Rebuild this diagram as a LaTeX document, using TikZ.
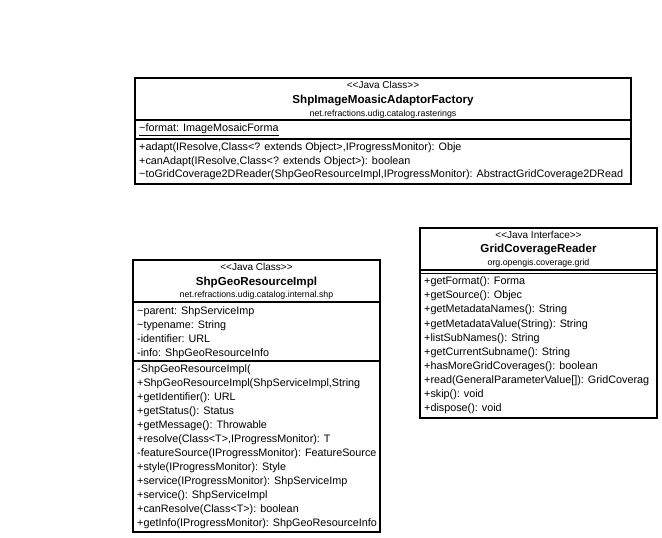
\documentclass[tikz,border=0pt]{standalone}
\usepackage{fontspec}
\setmainfont{Liberation Sans}
\tikzset{umlbox/.style={draw, line width=1.1pt}}
\tikzset{stereo/.style={inner sep=0pt, font=\fontsize{10}{12}\selectfont, text height=7.5pt, text depth=2pt}}
\tikzset{cname/.style={inner sep=0pt, font=\fontsize{11.6}{13}\selectfont\bfseries, text height=8.5pt, text depth=2.3pt}}
\tikzset{pkg/.style={inner sep=0pt, font=\fontsize{8.8}{10}\selectfont, text height=6.5pt, text depth=1.8pt}}
\tikzset{member/.style={anchor=west, inner sep=0pt, font=\fontsize{10.8}{13}\selectfont, text height=7.8pt, text depth=2.3pt}}

\begin{document}
\begin{tikzpicture}[x=1pt, y=-1pt]
	\useasboundingbox (0,0) rectangle (662,538);
	
	% ShpImageMoasicAdaptorFactory
	\draw[umlbox] (135,78) rectangle (631,184);
	\draw[umlbox] (135,120) -- (631,120);
	\draw[umlbox] (135,139) -- (631,139);
	\node[stereo] (fac-st) at (383,86) {<\kern0pt<Java Class>\kern0pt>};
	\node[cname] (fac-nm) at (383,100) {ShpImageMoasicAdaptorFactory};
	\node[pkg] (fac-pk) at (383,114) {net.refractions.udig.catalog.rasterings};
	\begin{scope}
		\clip (135,78) rectangle (631,184);
		\node[member] (fac-a1) at (139,129) {\underline{\textasciitilde format: ImageMosaicForma}};
		\foreach \txt [count=\i] in {
			{+adapt(IResolve,Class<? extends Object>,IProgressMonitor): Obje},
			{+canAdapt(IResolve,Class<? extends Object>): boolean},
			{\textasciitilde toGridCoverage2DReader(ShpGeoResourceImpl,IProgressMonitor): AbstractGridCoverage2DRead}} {
			\node[member] (fac-m\i) at (139,{134.5+13.5*\i}) {\txt};
		};
	\end{scope}
	
	% ShpGeoResourceImpl
	\draw[umlbox] (133,260) rectangle (380,532);
	\draw[umlbox] (133,302) -- (380,302);
	\draw[umlbox] (133,361) -- (380,361);
	\node[stereo] (geo-st) at (256.5,268) {<\kern0pt<Java Class>\kern0pt>};
	\node[cname] (geo-nm) at (256.5,282) {ShpGeoResourceImpl};
	\node[pkg] (geo-pk) at (256.5,295) {net.refractions.udig.catalog.internal.shp};
	\begin{scope}
		\clip (133,260) rectangle (380,532);
		\foreach \txt [count=\i] in {
			{\textasciitilde parent: ShpServiceImp},
			{\textasciitilde typename: String},
			{-identifier: URL},
			{-info: ShpGeoResourceInfo}} {
			\node[member] (geo-a\i) at (137,{298.2+13.8*\i}) {\txt};
		};
		\foreach \txt [count=\i] in {
			{-ShpGeoResourceImpl(},
			{+ShpGeoResourceImpl(ShpServiceImpl,String},
			{+getIdentifier(): URL},
			{+getStatus(): Status},
			{+getMessage(): Throwable},
			{+resolve(Class<T>,IProgressMonitor): T},
			{-featureSource(IProgressMonitor): FeatureSource},
			{+style(IProgressMonitor): Style},
			{+service(IProgressMonitor): ShpServiceImp},
			{+service(): ShpServiceImpl},
			{+canResolve(Class<T>): boolean},
			{+getInfo(IProgressMonitor): ShpGeoResourceInfo}} {
			\node[member] (geo-m\i) at (137,{356+14*\i}) {\txt};
		};
	\end{scope}
	
	% GridCoverageReader
	\draw[umlbox] (420,228) rectangle (657,418);
	\draw[umlbox] (420,270) -- (657,270);
	\draw[umlbox] (420,273.5) -- (657,273.5);
	\node[stereo] (grd-st) at (538.5,236) {<\kern0pt<Java Interface>\kern0pt>};
	\node[cname] (grd-nm) at (538.5,249) {GridCoverageReader};
	\node[pkg] (grd-pk) at (538.5,263) {org.opengis.coverage.grid};
	\begin{scope}
		\clip (420,228) rectangle (657,418);
		\foreach \txt [count=\i] in {
			{+getFormat(): Forma},
			{+getSource(): Objec},
			{+getMetadataNames(): String},
			{+getMetadataValue(String): String},
			{+listSubNames(): String},
			{+getCurrentSubname(): String},
			{+hasMoreGridCoverages(): boolean},
			{+read(GeneralParameterValue[]): GridCoverag},
			{+skip(): void},
			{+dispose(): void}} {
			\node[member] (grd-m\i) at (424,{267.9+14.1*\i}) {\txt};
		};
	\end{scope}
	
\end{tikzpicture}
\end{document}
